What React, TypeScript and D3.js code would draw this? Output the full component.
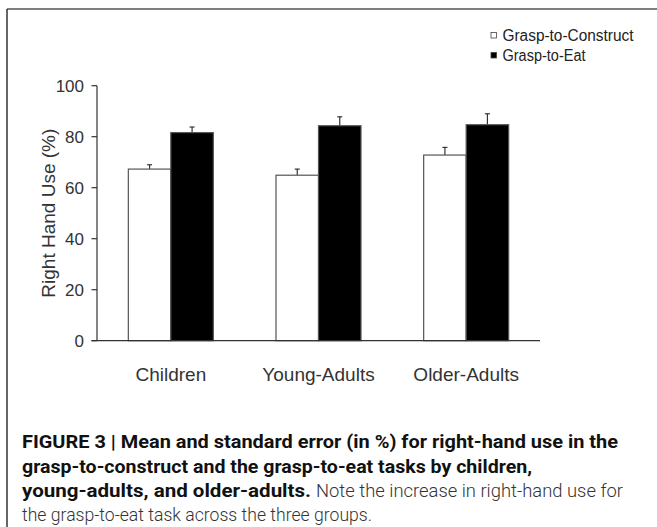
import * as d3 from "d3";

const groups = ["Children", "Young-Adults", "Older-Adults"];
const series = ["Grasp-to-Construct", "Grasp-to-Eat"];
const construct = [67.3, 64.9, 72.8];
const constructErr = [1.7, 2.4, 3.0];
const eat = [81.6, 84.3, 84.7];
const eatErr = [2.2, 3.5, 4.3];
const yTicks = [0, 20, 40, 60, 80, 100];
const colors = ["#ffffff", "#000000"];

const captionBold1 = "FIGURE 3 | Mean and standard error (in %) for right-hand use in the";
const captionBold2 = "grasp-to-construct and the grasp-to-eat tasks by children,";
const captionBold3 = "young-adults, and older-adults.";
const captionReg3 = "Note the increase in right-hand use for";
const captionReg4 = "the grasp-to-eat task across the three groups.";

const W = 657;
const H = 527;
const left = 97;
const right = 540;
const top = 85.7;
const bottom = 340.7;
const barW = 42.5;

const x = d3.scaleBand<string>().domain(groups).range([left, right]).padding(0);
const y = d3.scaleLinear().domain([0, 100]).range([bottom, top]);

const values = [construct, eat];
const errors = [constructErr, eatErr];

const font = "'Liberation Sans', Arial, sans-serif";

export default function App() {
  return (
    <svg width={W} height={H} style={{ position: "absolute", left: 0, top: 0, background: "#fff" }}>
      {/* frame */}
      <line x1={7} y1={9} x2={W} y2={9} stroke="#555" strokeWidth={1.5} />
      <line x1={7} y1={9} x2={7} y2={H} stroke="#333" strokeWidth={1.5} />

      {/* legend */}
      {series.map((s, i) => (
        <g key={s}>
          <rect x={491} y={32.5 + i * 20} width={5.5} height={5.5} fill={colors[i]} stroke="#444" strokeWidth={0.8} />
          <text x={502.5} y={40.5 + i * 20} fontFamily={font} fontSize={15.6} fill="#222"
            textLength={s.length > 14 ? 131 : 83} lengthAdjust="spacingAndGlyphs">{s}</text>
        </g>
      ))}

      {/* y axis */}
      <line x1={left} y1={top} x2={left} y2={bottom} stroke="#333" strokeWidth={1.2} />
      {yTicks.map((t) => (
        <g key={t}>
          <line x1={left - 5.5} x2={left} y1={y(t)} y2={y(t)} stroke="#333" strokeWidth={1.2} />
          <text x={84} y={y(t)} dy="0.36em" textAnchor="end" fontFamily={font} fontSize={17} fill="#333">{t}</text>
        </g>
      ))}
      <text
        transform={`translate(55,${(top + bottom) / 2}) rotate(-90)`}
        textAnchor="middle"
        fontFamily={font}
        fontSize={19}
        fill="#333"
      >
        Right Hand Use (%)
      </text>

      {/* bars */}
      {groups.map((g, gi) => {
        const cx = (x(g) ?? 0) + x.bandwidth() / 2;
        return values.map((vals, si) => {
          const bx = cx - barW + si * barW;
          const v = vals[gi];
          const e = errors[si][gi];
          const mid = bx + barW / 2;
          return (
            <g key={g + si}>
              <line x1={mid} x2={mid} y1={y(v)} y2={y(v + e)} stroke="#333" strokeWidth={1.2} />
              <line x1={mid - 2.5} x2={mid + 2.5} y1={y(v + e)} y2={y(v + e)} stroke="#333" strokeWidth={1.2} />
              <rect x={bx} y={y(v)} width={barW} height={bottom - y(v)} fill={colors[si]} stroke="#555" strokeWidth={1.2} />
            </g>
          );
        });
      })}

      {/* x axis baseline */}
      <line x1={left - 5.5} x2={right} y1={bottom} y2={bottom} stroke="#333" strokeWidth={1.2} />
      {groups.map((g) => (
        <text
          key={g}
          x={(x(g) ?? 0) + x.bandwidth() / 2}
          y={381}
          textAnchor="middle"
          fontFamily={font}
          fontSize={19}
          fill="#333"
        >
          {g}
        </text>
      ))}

      {/* caption */}
      <g fontFamily="'Liberation Sans Narrow', Roboto, sans-serif" fontSize={18} fill="#111">
        <text x={22} y={448} fontWeight={700} textLength={596} lengthAdjust="spacingAndGlyphs">{captionBold1}</text>
        <text x={22} y={473} fontWeight={700} textLength={510} lengthAdjust="spacingAndGlyphs">{captionBold2}</text>
        <text x={22} y={497} fontWeight={700} textLength={289} lengthAdjust="spacingAndGlyphs">{captionBold3}</text>
      </g>
      <g fontFamily="Roboto, 'Liberation Sans', sans-serif" fontSize={18} fill="#333" fontWeight={300}>
        <text x={316} y={497} textLength={307} lengthAdjust="spacingAndGlyphs">{captionReg3}</text>
        <text x={22} y={521} textLength={350} lengthAdjust="spacingAndGlyphs">{captionReg4}</text>
      </g>
    </svg>
  );
}
